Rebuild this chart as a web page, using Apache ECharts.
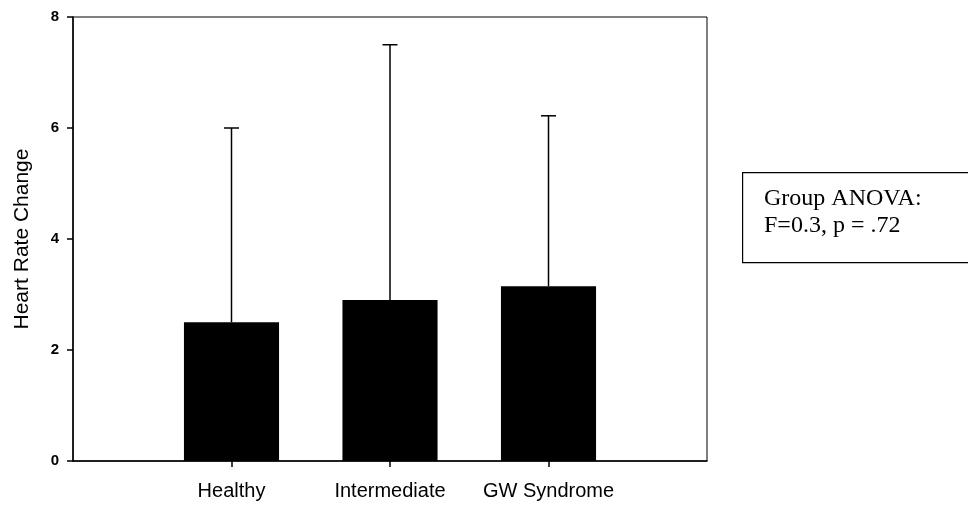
<!DOCTYPE html>
<html>
<head>
<meta charset="utf-8">
<script src="https://cdn.jsdelivr.net/npm/echarts@6/dist/echarts.min.js"></script>
<style>html,body{margin:0;padding:0;background:#fff}#c{width:968px;height:506px}</style>
</head>
<body>
<div id="c"></div>
<script>
var categories = ["", "Healthy", "Intermediate", "GW Syndrome", ""];
var means = [null, 2.5, 2.9, 3.15, null];
var upper = [null, 6.0, 7.5, 6.22, null];
var yTicks = [0, 2, 4, 6, 8];
var yTitle = "Heart Rate Change";
var noteLines = ["Group ANOVA:", "F=0.3, p = .72"];

var chart = echarts.init(document.getElementById('c'));
var errData = [];
for (var i = 0; i < categories.length; i++) {
  if (means[i] != null) errData.push([i, means[i], upper[i]]);
}
chart.setOption({
  animation: false,
  backgroundColor: '#fff',
  grid: { left: 73, right: 261, top: 17, bottom: 45, show: true, borderColor: '#000', borderWidth: 1 },
  xAxis: {
    type: 'category', data: categories, boundaryGap: false,
    axisLine: { lineStyle: { color: '#000', width: 1.5 } },
    axisTick: { show: true, length: 6, lineStyle: { color: '#000', width: 1.5 },
      interval: function (idx) { return categories[idx] !== ''; } },
    axisLabel: { color: '#000', fontFamily: 'Liberation Sans, Arial', fontSize: 20, margin: 20, interval: 0 },
    splitLine: { show: false }
  },
  yAxis: {
    type: 'value', min: yTicks[0], max: yTicks[yTicks.length - 1], interval: 2,
    name: yTitle, nameLocation: 'middle', nameGap: 40,
    nameTextStyle: { color: '#000', fontFamily: 'Liberation Sans, Arial', fontSize: 21 },
    axisLine: { show: true, lineStyle: { color: '#000', width: 1.5 } },
    axisTick: { show: true, length: 6, lineStyle: { color: '#000', width: 1.5 } },
    axisLabel: { color: '#000', fontFamily: 'Liberation Sans, Arial', fontSize: 15, fontWeight: 'bold', margin: 14 },
    splitLine: { show: false }
  },
  series: [
    {
      type: 'bar', data: means, barWidth: '60%',
      itemStyle: { color: '#000' }, z: 3
    },
    {
      type: 'custom', data: errData, z: 2,
      renderItem: function (params, api) {
        var x = api.value(0);
        var lo = api.coord([x, api.value(1)]);
        var hi = api.coord([x, api.value(2)]);
        var cw = 7.5;
        return {
          type: 'group',
          children: [
            { type: 'line', shape: { x1: lo[0], y1: lo[1], x2: hi[0], y2: hi[1] }, style: { stroke: '#000', lineWidth: 1.5 } },
            { type: 'line', shape: { x1: hi[0] - cw, y1: hi[1], x2: hi[0] + cw, y2: hi[1] }, style: { stroke: '#000', lineWidth: 1.5 } }
          ]
        };
      }
    }
  ],
  graphic: [
    { type: 'rect', left: 742, top: 172, shape: { width: 240, height: 90 }, style: { fill: '#fff', stroke: '#000', lineWidth: 1.2 } },
    { type: 'text', left: 764, top: 187, style: { text: noteLines[0], font: '24px "Liberation Serif", "Times New Roman", serif', fill: '#000' } },
    { type: 'text', left: 764, top: 214, style: { text: noteLines[1], font: '24px "Liberation Serif", "Times New Roman", serif', fill: '#000' } }
  ]
});
</script>
</body>
</html>
